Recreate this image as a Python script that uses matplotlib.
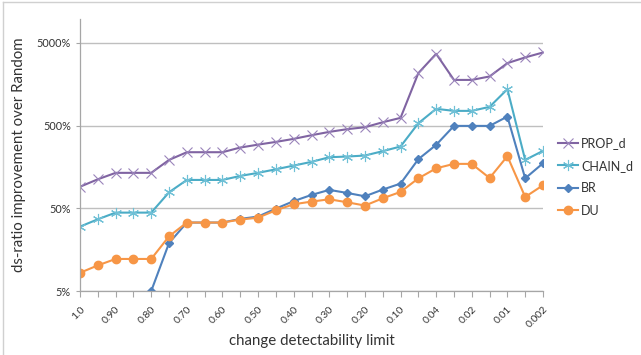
import numpy as np
import matplotlib
matplotlib.use("Agg")
import matplotlib.pyplot as plt
from matplotlib.lines import Line2D

categories = ["1.0","0.95","0.90","0.85","0.80","0.75","0.70","0.65","0.60","0.55",
              "0.50","0.45","0.40","0.35","0.30","0.25","0.20","0.15","0.10","0.07",
              "0.04","0.03","0.02","0.015","0.01","0.005","0.002"]
prop_d = [91, 112, 134, 134, 134, 192, 238, 238, 238, 271, 294, 317, 345,
          382, 419, 452, 477, 548, 619, 2150, 3680, 1780, 1780, 1960, 2840, 3330, 3820]
chain_d = [30, 36.8, 44.3, 44.3, 44.3, 78, 110, 110, 110, 123, 134, 148, 164,
           182, 207, 211, 217, 245, 279, 533, 796, 752, 752, 841, 1376, 192, 247]
br = [np.nan, np.nan, np.nan, np.nan, 5, 19, 33.6, 33.6, 33.6, 37.2, 39.7, 49.5, 61,
      72.5, 83.4, 76.6, 69.8, 84.1, 99.4, 196, 292, 495, 495, 495, 642, 115, 175]
du = [8.3, 10.2, 12.2, 12.2, 12.2, 22.9, 33.6, 33.6, 33.6, 36.5, 38.5, 47.3, 55.9,
      60.2, 64.2, 59.1, 53.9, 66, 78.8, 115, 152, 172, 172, 116, 213, 68.5, 94.9]
ytick_vals = [5, 50, 500, 5000]
ytick_labels = ["5%", "50%", "500%", "5000%"]

plt.rcParams['font.family'] = ['Lato', 'DejaVu Sans']

fig = plt.figure(figsize=(6.41, 3.55), dpi=100)
ax = fig.add_axes([80/641, 1-291/355, (543-80)/641, (291-19)/355])
x = np.arange(len(categories))

ax.plot(x, prop_d, color='#8064a2', lw=1.5, marker='x', ms=7, mew=0.8,
        mec='#9a84bb', label='PROP_d')
ax.plot(x, chain_d, color='#4bacc6', lw=1.5, marker=(6, 2, 0), ms=8, mew=0.8,
        mec='#6fc0d6', label='CHAIN_d')
ax.plot(x, br, color='#4f81bd', lw=1.5, marker='D', ms=4.5, label='BR')
ax.plot(x, du, color='#f79646', lw=1.5, marker='o', ms=6, label='DU')

ax.set_yscale('log')
ax.set_ylim(5, 9700)
ax.set_xlim(0, len(categories)-1)
ax.set_yticks(ytick_vals)
ax.set_yticklabels(ytick_labels)
ax.yaxis.set_minor_locator(matplotlib.ticker.NullLocator())
ax.set_xticks(x)
ax.set_xticklabels([c if i % 2 == 0 else "" for i, c in enumerate(categories)],
                   rotation=45, ha='right', rotation_mode='anchor', fontsize=7.5)
ax.tick_params(axis='y', labelsize=7.8, length=3, color='#a6a6a6', width=0.8)
ax.tick_params(axis='x', length=4, color='#a6a6a6', width=0.8, pad=6)
for tl in ax.get_yticklabels():
    tl.set_color('#333333')
for tl in ax.get_xticklabels():
    tl.set_color('#333333')

ax.grid(axis='y', color='#bfbfbf', lw=1.0)
ax.set_axisbelow(True)
for s in ['top', 'right']:
    ax.spines[s].set_visible(False)
for s in ['left', 'bottom']:
    ax.spines[s].set_color('#a6a6a6')
    ax.spines[s].set_linewidth(0.9)

ax.set_ylabel('ds-ratio improvement over Random', fontsize=10.8, color='#333333', labelpad=8)
ax.set_xlabel('change detectability limit', fontsize=10.8, color='#333333', labelpad=3)

leg = fig.legend(loc='upper left', bbox_to_anchor=(558/641, 1-137/355), frameon=False,
                 fontsize=9, handlelength=1.6, handletextpad=0.25, labelspacing=0.85,
                 borderaxespad=0, borderpad=0)
for t in leg.get_texts():
    t.set_color('#333333')

fig.add_artist(Line2D([3/641, 3/641], [0, 1-2/355], transform=fig.transFigure, color='#d0d0d0', lw=1))
fig.add_artist(Line2D([3/641, 1], [1-2/355, 1-2/355], transform=fig.transFigure, color='#d0d0d0', lw=1))

fig.savefig('out.png', dpi=100)
